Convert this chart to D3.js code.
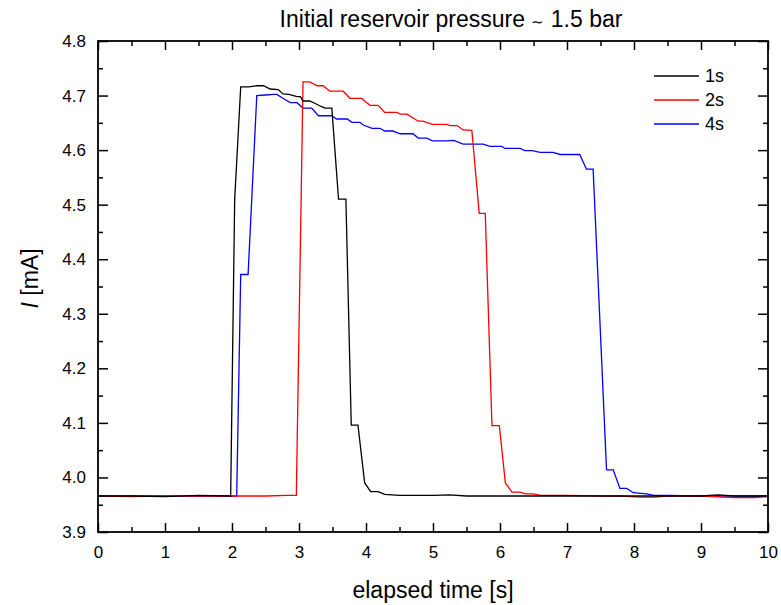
<!DOCTYPE html>
<html>
<head>
<meta charset="utf-8">
<script src="https://cdn.jsdelivr.net/npm/d3@7"></script>
<style>
  html, body { margin: 0; padding: 0; background: #fff; }
  svg text { font-family: "Liberation Sans", Arial, sans-serif; }
</style>
</head>
<body>
<svg id="chart" width="781" height="605"></svg>
<script>
// ---- data (time [s], current [mA]) ----
const seriesNames = ["1s", "2s", "4s"];
const seriesColors = ["#000000", "#ff0000", "#0000ff"];

const time1s = [0, 0.5, 1.0, 1.5, 1.98, 2.04, 2.13, 2.25, 2.37, 2.47, 2.57, 2.69, 2.76, 2.85, 2.97, 3.02, 3.06, 3.16, 3.25, 3.33, 3.39, 3.49, 3.59, 3.70, 3.78, 3.88, 3.98, 4.07, 4.18, 4.28, 4.50, 5.0, 5.25, 5.5, 6.0, 6.5, 7.0, 7.5, 8.0, 8.5, 9.0, 9.25, 9.5, 10.0];
const value1s = [3.966, 3.966, 3.965, 3.967, 3.966, 4.509, 4.716, 4.716, 4.718, 4.718, 4.712, 4.711, 4.703, 4.702, 4.698, 4.698, 4.690, 4.690, 4.685, 4.680, 4.677, 4.677, 4.510, 4.510, 4.096, 4.096, 3.990, 3.974, 3.974, 3.969, 3.967, 3.967, 3.968, 3.966, 3.966, 3.966, 3.966, 3.966, 3.966, 3.966, 3.966, 3.968, 3.966, 3.966];

const time2s = [0, 0.5, 1.0, 1.5, 2.0, 2.5, 2.82, 2.96, 3.06, 3.16, 3.27, 3.36, 3.46, 3.66, 3.76, 3.94, 3.96, 4.06, 4.18, 4.28, 4.46, 4.51, 4.61, 4.78, 4.85, 4.99, 5.21, 5.25, 5.36, 5.45, 5.58, 5.69, 5.78, 5.88, 5.99, 6.08, 6.18, 6.30, 6.38, 6.50, 6.60, 7.0, 7.5, 7.8, 8.1, 8.3, 8.5, 9.0, 9.5, 9.8, 10.0];
const value2s = [3.966, 3.965, 3.966, 3.966, 3.966, 3.966, 3.967, 3.967, 4.725, 4.725, 4.718, 4.718, 4.708, 4.708, 4.695, 4.695, 4.692, 4.682, 4.682, 4.669, 4.669, 4.666, 4.666, 4.653, 4.653, 4.647, 4.647, 4.645, 4.645, 4.637, 4.636, 4.484, 4.484, 4.095, 4.095, 3.990, 3.973, 3.973, 3.970, 3.970, 3.967, 3.967, 3.966, 3.966, 3.964, 3.964, 3.966, 3.966, 3.963, 3.963, 3.965];

const time4s = [0, 0.5, 1.0, 1.5, 2.0, 2.07, 2.13, 2.24, 2.37, 2.50, 2.62, 2.67, 2.76, 2.87, 2.97, 3.06, 3.19, 3.29, 3.49, 3.56, 3.72, 3.79, 3.91, 3.96, 4.09, 4.21, 4.28, 4.40, 4.51, 4.70, 4.78, 4.91, 4.99, 5.21, 5.31, 5.45, 5.75, 5.85, 6.03, 6.07, 6.30, 6.37, 6.48, 6.60, 6.79, 6.90, 7.19, 7.29, 7.39, 7.59, 7.69, 7.79, 7.89, 7.99, 8.19, 8.29, 8.5, 9.0, 9.5, 10.0];
const value4s = [3.966, 3.966, 3.966, 3.966, 3.966, 3.966, 4.372, 4.372, 4.700, 4.701, 4.702, 4.702, 4.695, 4.687, 4.687, 4.677, 4.677, 4.663, 4.663, 4.657, 4.657, 4.651, 4.651, 4.646, 4.640, 4.640, 4.635, 4.635, 4.630, 4.630, 4.622, 4.622, 4.617, 4.617, 4.618, 4.611, 4.611, 4.607, 4.607, 4.603, 4.603, 4.599, 4.599, 4.596, 4.596, 4.592, 4.592, 4.565, 4.565, 4.014, 4.014, 3.980, 3.980, 3.972, 3.970, 3.967, 3.967, 3.966, 3.966, 3.966];

const xTicks = [0, 1, 2, 3, 4, 5, 6, 7, 8, 9, 10];
const yTicks = [3.9, 4.0, 4.1, 4.2, 4.3, 4.4, 4.5, 4.6, 4.7, 4.8];
const xMinorTicks = [0.5, 1.5, 2.5, 3.5, 4.5, 5.5, 6.5, 7.5, 8.5, 9.5];
const yMinorTicks = [3.95, 4.05, 4.15, 4.25, 4.35, 4.45, 4.55, 4.65, 4.75];

const titleMain = "Initial reservoir pressure ";
const titleTilde = "\u223C";
const titleEnd = " 1.5 bar";
const xLabelText = "elapsed time [s]";

// ---- layout ----
const svg = d3.select("#chart");
const L = 98, R = 768, T = 41, B = 532;

const x = d3.scaleLinear().domain([0, 10]).range([L, R]);
const y = d3.scaleLinear().domain([3.9, 4.8]).range([B, T]);

const series = [
  {name: seriesNames[0], color: seriesColors[0], t: time1s, v: value1s},
  {name: seriesNames[1], color: seriesColors[1], t: time2s, v: value2s},
  {name: seriesNames[2], color: seriesColors[2], t: time4s, v: value4s}
];

const line = d3.line().x(d => x(d[0])).y(d => y(d[1]));

const drawOrder = [2, 1, 0];
drawOrder.forEach(i => {
  const s = series[i];
  svg.append("path")
    .datum(s.t.map((t, k) => [t, s.v[k]]))
    .attr("d", line)
    .attr("fill", "none")
    .attr("stroke", s.color)
    .attr("stroke-width", 1.3)
    .attr("stroke-linejoin", "miter");
});

// axes with inward ticks
const fmtY = d3.format(".1f");
function styleAxis(g) {
  g.select(".domain").remove();
  g.selectAll("line").attr("stroke", "#000").attr("stroke-width", 1.5);
  g.selectAll("text").attr("fill", "#000").style("font-size", "17px");
}
svg.append("g").attr("transform", `translate(0,${B})`)
  .call(d3.axisBottom(x).tickValues(xTicks).tickSize(-9).tickPadding(14).tickFormat(d3.format("d")))
  .call(styleAxis);
svg.append("g").attr("transform", `translate(0,${B})`)
  .call(d3.axisBottom(x).tickValues(xMinorTicks).tickSize(-5).tickFormat(""))
  .call(styleAxis);
svg.append("g").attr("transform", `translate(0,${T})`)
  .call(d3.axisTop(x).tickValues(xTicks).tickSize(-9).tickFormat(""))
  .call(styleAxis);
svg.append("g").attr("transform", `translate(0,${T})`)
  .call(d3.axisTop(x).tickValues(xMinorTicks).tickSize(-5).tickFormat(""))
  .call(styleAxis);
svg.append("g").attr("transform", `translate(${L},0)`)
  .call(d3.axisLeft(y).tickValues(yTicks).tickSize(-10).tickPadding(12).tickFormat(fmtY))
  .call(styleAxis);
svg.append("g").attr("transform", `translate(${L},0)`)
  .call(d3.axisLeft(y).tickValues(yMinorTicks).tickSize(-5).tickFormat(""))
  .call(styleAxis);
svg.append("g").attr("transform", `translate(${R},0)`)
  .call(d3.axisRight(y).tickValues(yTicks).tickSize(-10).tickFormat(""))
  .call(styleAxis);
svg.append("g").attr("transform", `translate(${R},0)`)
  .call(d3.axisRight(y).tickValues(yMinorTicks).tickSize(-5).tickFormat(""))
  .call(styleAxis);

// frame
svg.append("rect")
  .attr("x", L).attr("y", T).attr("width", R - L).attr("height", B - T)
  .attr("fill", "none").attr("stroke", "#000").attr("stroke-width", 1.8);

// title
const tt = svg.append("text")
  .attr("x", 451).attr("y", 27)
  .attr("text-anchor", "middle")
  .style("font-size", "23px");
tt.append("tspan").text(titleMain);
tt.append("tspan").style("font-size", "15px").text(titleTilde);
tt.append("tspan").text(titleEnd);

// x label
svg.append("text")
  .attr("x", (L + R) / 2).attr("y", 598)
  .attr("text-anchor", "middle")
  .style("font-size", "23px")
  .text(xLabelText);

// y label
const yl = svg.append("text")
  .attr("transform", `translate(38,${(T + B) / 2 - 8}) rotate(-90)`)
  .attr("text-anchor", "middle")
  .style("font-size", "23px");
yl.append("tspan").style("font-style", "italic").text("I");
yl.append("tspan").text(" [mA]");

// legend
const legX1 = 654, legX2 = 699, legY0 = 76, legDY = 24;
series.forEach((s, i) => {
  const yy = legY0 + i * legDY;
  svg.append("line").attr("x1", legX1).attr("x2", legX2).attr("y1", yy).attr("y2", yy)
    .attr("stroke", s.color).attr("stroke-width", 1.3);
  svg.append("text").attr("x", legX2 + 6).attr("y", yy + 6)
    .style("font-size", "18px").text(s.name);
});
</script>
</body>
</html>
